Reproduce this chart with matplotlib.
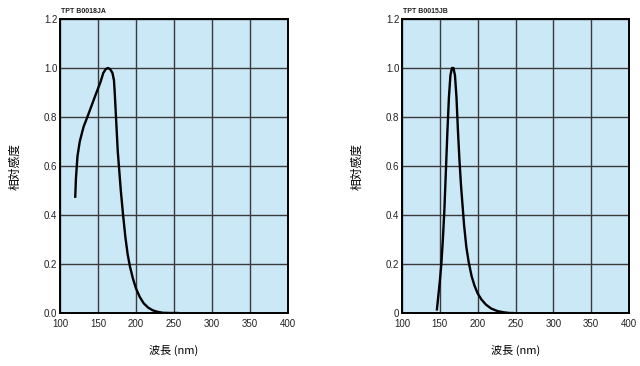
import matplotlib
matplotlib.use("Agg")
import matplotlib.pyplot as plt

plt.rcParams['font.family'] = ['Liberation Sans', 'Noto Sans CJK JP', 'DejaVu Sans']

# data
titles = ['TPT B0018JA', 'TPT B0015JB']
wl_a = [120, 121, 123, 126, 131, 136, 142, 148, 153, 157, 160, 163, 166, 169, 171, 172, 174, 176, 178,
        180, 183, 186, 189, 192, 196, 200, 205, 210, 216, 222, 228, 235, 245, 256]
sens_a = [0.47, 0.55, 0.64, 0.70, 0.76, 0.80, 0.85, 0.90, 0.94, 0.98, 0.995, 1.0, 0.995, 0.98, 0.95, 0.90,
          0.78, 0.66, 0.58, 0.50, 0.40, 0.31, 0.24, 0.19, 0.14, 0.10, 0.065, 0.04, 0.022, 0.011, 0.005, 0.001, 0.0, 0.0]
wl_b = [146, 148, 150, 152, 154, 156, 158, 160, 162, 164, 166, 168, 170, 172, 174, 176, 178, 180, 182,
        185, 188, 192, 196, 200, 205, 211, 218, 226, 234, 242, 248]
sens_b = [0.01, 0.07, 0.13, 0.2, 0.3, 0.42, 0.58, 0.74, 0.88, 0.97, 1.0, 1.0, 0.97, 0.88, 0.74, 0.62, 0.52,
          0.44, 0.36, 0.27, 0.21, 0.15, 0.11, 0.08, 0.055, 0.034, 0.018, 0.008, 0.003, 0.0, 0.0]
x_ticks = [100, 150, 200, 250, 300, 350, 400]
y_ticks = [0.0, 0.2, 0.4, 0.6, 0.8, 1.0, 1.2]
y_labels_a = ['0.0', '0.2', '0.4', '0.6', '0.8', '1.0', '1.2']
y_labels_b = ['0', '0.2', '0.4', '0.6', '0.8', '1.0', '1.2']

fig = plt.figure(figsize=(6.4, 3.66), dpi=100)
positions = [[60/640, 53/366, 228/640, 294/366], [402/640, 53/366, 227/640, 294/366]]
series = [(wl_a, sens_a, y_labels_a), (wl_b, sens_b, y_labels_b)]

for pos, title, (wl, sens, ylabs) in zip(positions, titles, series):
    ax = fig.add_axes(pos)
    ax.set_facecolor('#cbe8f7')
    ax.plot(wl, sens, color='black', lw=1.7, solid_capstyle='butt')
    ax.set_xlim(100, 400)
    ax.set_ylim(0, 1.2)
    ax.set_xticks(x_ticks)
    ax.set_yticks(y_ticks)
    ax.set_yticklabels(ylabs)
    ax.tick_params(length=0, labelsize=7, colors='#222222')
    ax.tick_params(axis='x', pad=4)
    ax.tick_params(axis='y', pad=2)
    ax.grid(True, color='#3a3a3a', lw=1.0)
    ax.set_axisbelow(True)
    for s in ax.spines.values():
        s.set_linewidth(1.4)
        s.set_color('black')
    ax.text(0.005, 1.012, title, transform=ax.transAxes, fontsize=5, fontweight='bold',
            va='bottom', ha='left', color='#222222')
    ax.set_xlabel('波長 (nm)', fontsize=8, labelpad=12,
                  family=['Noto Sans CJK JP', 'DejaVu Sans'])
    ax.set_ylabel('相対感度', fontsize=8.5, labelpad=16,
                  family=['Noto Sans CJK JP', 'DejaVu Sans'])

fig.savefig('out.png', dpi=100)
